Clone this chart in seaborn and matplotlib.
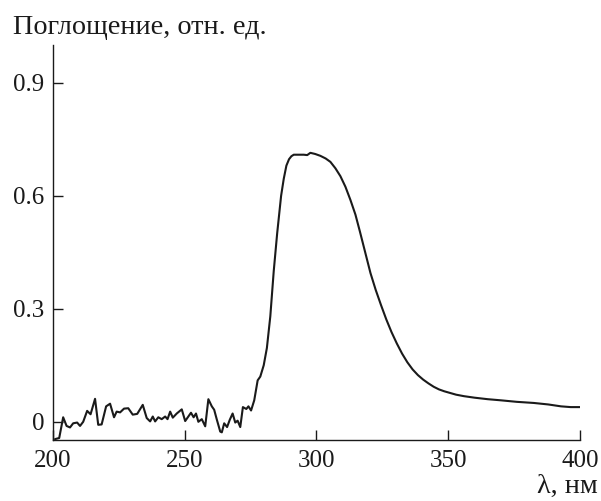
import matplotlib
matplotlib.use("Agg")
import matplotlib.pyplot as plt
import seaborn as sns
import pandas as pd

wavelength = [200.8, 202.4, 203.9, 205.2, 206.5, 207.7, 209.2, 210.3, 211.5, 213.0,
              214.3, 216.0, 217.2, 218.5, 220.2, 221.7, 223.2, 224.2, 225.5, 227.0,
              228.6, 230.3, 232.0, 234.1, 235.6, 236.9, 237.9, 238.8, 240.0, 241.3,
              242.6, 243.5, 244.5, 245.5, 247.0, 248.9, 250.2, 251.4, 252.4, 253.4,
              254.3, 255.2, 256.5, 257.8, 259.0, 260.3, 261.2, 262.2, 263.5, 264.1,
              265.0, 266.1, 267.1, 268.2, 269.2, 270.1, 271.1, 272.1, 273.4, 274.2,
              275.2, 276.4, 277.7, 278.7, 280.0, 281.2, 282.5, 283.8, 285.1, 286.6,
              287.6, 288.6, 289.6, 290.5, 291.4, 293.5, 295.2, 296.5, 297.7, 299.5,
              301.5, 303.5, 305.3, 307.2, 309.1, 311.0, 312.9, 314.8, 316.5, 318.5,
              320.5, 322.5, 324.5, 326.5, 328.5, 330.5, 332.5, 334.5, 336.5, 338.5,
              340.5, 342.5, 344.5, 346.5, 348.5, 350.5, 353.0, 356.0, 360.0, 365.0,
              370.0, 376.0, 382.5, 388.0, 392.8, 396.5, 400.4]
absorbance = [-0.046, -0.043, 0.012, -0.011, -0.015, -0.004, -0.002, -0.011, 0.000, 0.029,
              0.020, 0.061, -0.008, -0.007, 0.041, 0.048, 0.012, 0.027, 0.025, 0.035,
              0.036, 0.019, 0.021, 0.045, 0.010, 0.001, 0.014, 0.001, 0.012, 0.007,
              0.014, 0.007, 0.027, 0.011, 0.022, 0.033, 0.002, 0.014, 0.024, 0.012,
              0.022, 0.000, 0.007, -0.012, 0.060, 0.041, 0.032, 0.006, -0.026, -0.028,
              -0.004, -0.014, 0.005, 0.022, -0.002, 0.003, -0.014, 0.039, 0.034, 0.041,
              0.030, 0.057, 0.110, 0.120, 0.150, 0.196, 0.280, 0.400, 0.500, 0.600,
              0.645, 0.680, 0.697, 0.705, 0.709, 0.709, 0.709, 0.708, 0.714, 0.711,
              0.706, 0.699, 0.690, 0.673, 0.652, 0.624, 0.589, 0.550, 0.505, 0.450,
              0.395, 0.350, 0.310, 0.272, 0.238, 0.208, 0.181, 0.158, 0.139, 0.124,
              0.112, 0.102, 0.093, 0.086, 0.081, 0.077, 0.072, 0.068, 0.064, 0.060,
              0.057, 0.053, 0.050, 0.046, 0.041, 0.039, 0.039]

yticks = [0, 0.3, 0.6, 0.9]
ytick_labels = ["0", "0.3", "0.6", "0.9"]
xticks = [200, 250, 300, 350, 400]
xtick_labels = ["200", "250", "300", "350", "400"]

df = pd.DataFrame({"wl": wavelength, "abs": absorbance})

sns.set_style("ticks")
plt.rcParams['font.family'] = ['Liberation Serif', 'DejaVu Serif']

fig = plt.figure(figsize=(6.01, 5.01), dpi=100)
ax = fig.add_axes([0.088, 0.122, 0.877, 0.788])
sns.lineplot(data=df, x="wl", y="abs", ax=ax, color="#1a1a1a", linewidth=1.5,
             sort=False, estimator=None)

ax.set_xlim(200, 400)
ax.set_ylim(-0.048, 1.0)
ax.set_xticks(xticks)
ax.set_xticklabels(xtick_labels)
ax.set_yticks(yticks)
ax.set_yticklabels(ytick_labels)
ax.set_xlabel("")
ax.set_ylabel("")
sns.despine(ax=ax)
for s in ["left", "bottom"]:
    ax.spines[s].set_linewidth(1.0)
    ax.spines[s].set_color("#1a1a1a")
ax.tick_params(direction="in", length=7, width=1.0, colors="#1a1a1a",
               labelsize=18, labelcolor="#1a1a1a")
ax.tick_params(axis="x", pad=7)
ax.tick_params(axis="y", pad=6)

fig.text(0.022, 1 - 34 / 501, "Поглощение, отн. ед.", fontsize=20.3,
         color="#1a1a1a", ha="left", va="baseline")
fig.text(0.995, 1 - 499 / 501, "λ, нм", fontsize=20.3, color="#1a1a1a",
         ha="right", va="bottom")

fig.savefig("out.png", dpi=100)
